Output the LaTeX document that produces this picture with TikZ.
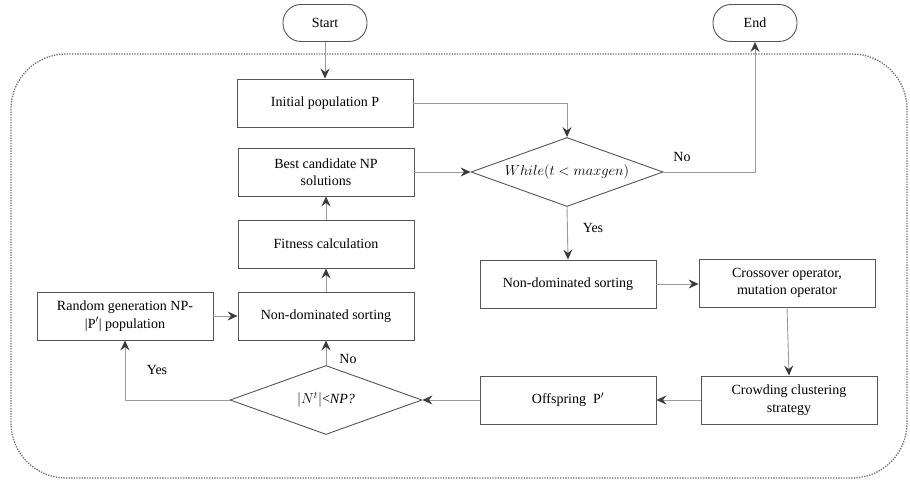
\documentclass[tikz,border=0pt]{standalone}
\usepackage{fontspec}
\setmainfont{Liberation Serif}
\usetikzlibrary{arrows.meta,shapes.geometric}
\definecolor{boxc}{HTML}{555555}
\definecolor{linec}{HTML}{9A9A9A}
\definecolor{tipc}{HTML}{3A3A3A}
\definecolor{framec}{HTML}{6E6E6E}
\begin{document}
\begin{tikzpicture}[x=1pt,y=-1pt,
  font=\fontsize{14}{17.5}\selectfont,
  box/.style={draw=boxc, line width=0.9pt, minimum width=176pt, minimum height=48pt, align=center, inner sep=2pt},
  term/.style={draw=boxc, line width=0.9pt, rounded corners=18pt, minimum width=84pt, minimum height=37pt},
  dia/.style={draw=boxc, line width=0.9pt, diamond, aspect=2.78, minimum width=192pt, minimum height=69pt, inner sep=0pt},
  conn/.style={draw=linec, line width=0.9pt, -{Stealth[length=10pt,width=9pt,inset=3.5pt,color=tipc]}},
  lbl/.style={inner sep=1pt}
]
\useasboundingbox (0,0) rectangle (910,481);
\draw[framec, line width=1.3pt, dash pattern=on 1.3pt off 1.3pt, rounded corners=55pt] (11,54) rectangle (907,478);

\node[term] (start) at (325,23) {Start};
\node[term] (end) at (755,23) {End};
\node[box] (init) at (325,103) {Initial population P};
\node[box] (best) at (326,172) {Best candidate NP\\solutions};
\node[box] (fit) at (326,244) {Fitness calculation};
\node[box] (nds1) at (326,316) {Non-dominated sorting};
\node[box] (rand) at (125,316) {Random generation NP-\\|P$'$| population};
\node[dia] (dec2) at (326,400) {$|N^t|$<\textit{NP?}};
\node[dia] (dec1) at (567,172) {$While(t<maxgen)$};
\node[box] (nds2) at (568,284) {Non-dominated sorting};
\node[box] (cross) at (787,283) {Crossover operator,\\mutation operator};
\node[box] (crowd) at (789,400) {Crowding clustering\\strategy};
\node[box] (off) at (568,400) {Offspring\ \ P$'$};

\draw[conn] (start) -- (init);
\draw[conn] (init.east) -| (dec1.north);
\draw[conn] (best.east) -- (dec1.west);
\draw[conn] (dec1.east) -| (end.south);
\draw[conn] (dec1.south) -- (nds2.north);
\draw[conn] (nds2.east) -- (cross.west |- nds2.east);
\draw[conn] (cross.south) -- (crowd.north);
\draw[conn] (crowd.west) -- (off.east);
\draw[conn] (off.west) -- (dec2.east);
\draw[conn] (dec2.north) -- (nds1.south);
\draw[conn] (dec2.west) -| (rand.south);
\draw[conn] (rand.east) -- (nds1.west);
\draw[conn] (nds1.north) -- (fit.south);
\draw[conn] (fit.north) -- (best.south);

\node[lbl] (lno1) at (682,157) {No};
\node[lbl] (lyes1) at (593,228) {Yes};
\node[lbl] (lno2) at (348,359) {No};
\node[lbl] (lyes2) at (157,370) {Yes};
\end{tikzpicture}
\end{document}
